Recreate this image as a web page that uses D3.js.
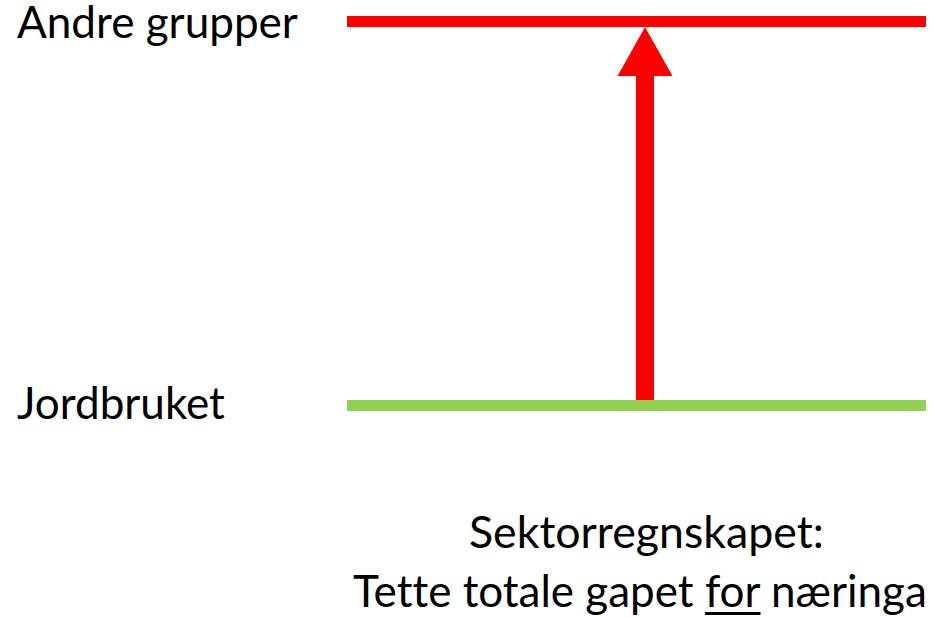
<!DOCTYPE html>
<html lang="no">
<head>
<meta charset="UTF-8">
<title>Sektorregnskapet</title>
<script src="https://d3js.org/d3.v7.min.js"></script>
<style>
  html, body { margin: 0; padding: 0; background: #fff; }
  svg text { font-family: Lato, "Open Sans", sans-serif; fill: #000; font-variant-ligatures: none; }
</style>
</head>
<body>
<svg id="chart" width="935" height="617"></svg>
<script>
// levels (bottom to top) and their colours
const levelLabels = ["Jordbruket", "Andre grupper"];
const levelValues = [0, 1];
const levelColors = ["#92D050", "#FF0000"];
// caption lines
const captionLines = ["Sektorregnskapet:", "Tette totale gapet for næringa"];
const underlinedWord = "for";

const svg = d3.select("#chart");

const y = d3.scaleLinear().domain([0, 1]).range([405.5, 21.5]);
const x = d3.scaleLinear().domain([0, 1]).range([347, 926]);
const lineW = 11;

// horizontal level lines
svg.selectAll("line.level")
  .data(levelValues)
  .enter().append("line")
    .attr("class", "level")
    .attr("x1", x(0)).attr("x2", x(1))
    .attr("y1", d => y(d)).attr("y2", d => y(d))
    .attr("stroke", (d, i) => levelColors[i])
    .attr("stroke-width", lineW);

// arrow from bottom level up to top level
const ax = 645, shaftW = 18, headW = 55, headH = 49;
const yBase = y(levelValues[0]) - lineW / 2;
const yTip = y(levelValues[1]) + lineW / 2;
svg.append("rect")
  .attr("x", ax - shaftW / 2)
  .attr("y", yTip + headH - 1)
  .attr("width", shaftW)
  .attr("height", yBase - (yTip + headH - 1))
  .attr("fill", "#FF0000");
svg.append("path")
  .attr("d", d3.line()([[ax, yTip], [ax + headW / 2, yTip + headH], [ax - headW / 2, yTip + headH]]) + "Z")
  .attr("fill", "#FF0000");

// fit a text element's font-size to a target width
function fit(sel, width) {
  let fs = 40;
  sel.attr("font-size", fs);
  const w = sel.node().getComputedTextLength();
  sel.attr("font-size", fs * width / w);
}

// level labels
const labelPos = [{ y: 419, w: 208 }, { y: 38, w: 281 }];
levelLabels.forEach((t, i) => {
  const el = svg.append("text")
    .attr("x", 17)
    .attr("y", labelPos[i].y)
    .text(t);
  fit(el, labelPos[i].w);
});

// caption
const cap1 = svg.append("text").attr("x", 469).attr("y", 548).text(captionLines[0]);
fit(cap1, 355);

const parts = captionLines[1].split(" " + underlinedWord + " ");
const cap2 = svg.append("text").attr("x", 353).attr("y", 607);
cap2.append("tspan").text(parts[0] + " ");
const uSpan = cap2.append("tspan").text(underlinedWord);
cap2.append("tspan").text(" " + parts[1]);
fit(cap2, 574);

const ub = uSpan.node().getBBox();
svg.append("rect")
  .attr("x", ub.x)
  .attr("y", 612)
  .attr("width", ub.width)
  .attr("height", 3)
  .attr("fill", "#000");
</script>
</body>
</html>
